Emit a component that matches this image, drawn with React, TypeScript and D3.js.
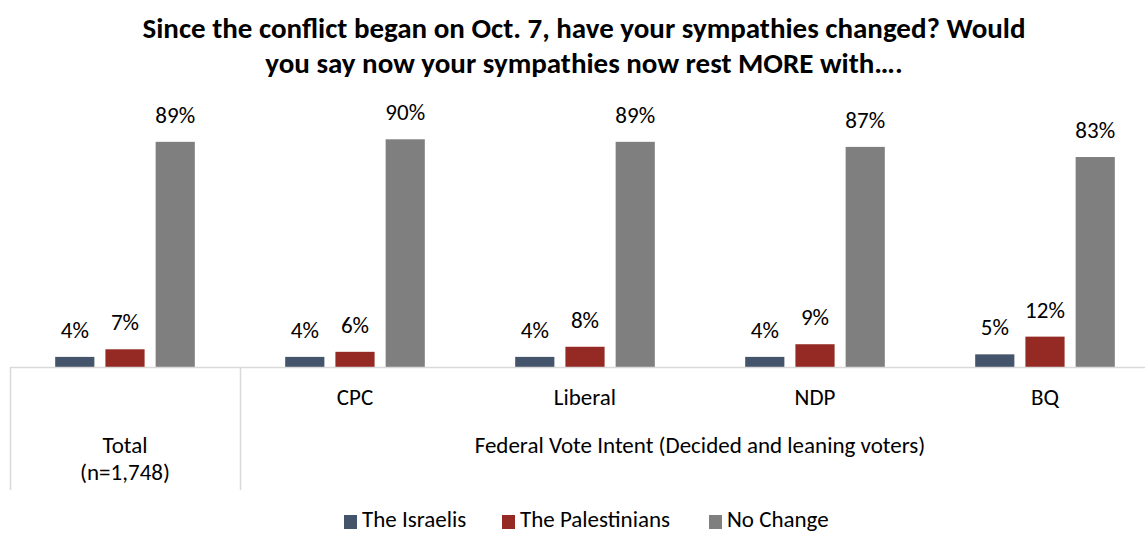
import React from "react";
import * as d3 from "d3";

const categories = ["Total", "CPC", "Liberal", "NDP", "BQ"];
const seriesNames = ["The Israelis", "The Palestinians", "No Change"];
const israelis = [4, 4, 4, 4, 5];
const palestinians = [7, 6, 8, 9, 12];
const noChange = [89, 90, 89, 87, 83];
const colors = ["#44546A", "#952923", "#7F7F7F"];
const titleLines = [
  "Since the conflict began on Oct. 7, have your sympathies changed? Would",
  "you say now your sympathies now rest MORE with….",
];

const W = 1145;
const H = 533;
const font = "Carlito, Calibri, Lato, 'Open Sans', sans-serif";
const fs = 23;

export default function App() {
  const series = [israelis, palestinians, noChange];
  const x = d3.scaleBand<string>().domain(categories).range([10, 1160]).paddingInner(0).paddingOuter(0);
  const inner = d3
    .scaleBand<string>()
    .domain(seriesNames)
    .range([0, x.bandwidth()])
    .paddingInner(0.22)
    .paddingOuter(0.9);
  const y = d3.scaleLinear().domain([0, 100]).range([367, 114]);
  const base = y(0);

  return (
    <svg width={W} height={H} style={{ position: "absolute", left: 0, top: 0, background: "#fff" }}>
      <rect width={W} height={H} fill="#fff" />
      {titleLines.map((t, i) => (
        <text key={i} x={584} y={38 + i * 35} textAnchor="middle" fontFamily={font} fontWeight="bold" fontSize={29} fill="#000">
          {t}
        </text>
      ))}
      {categories.map((c, ci) =>
        series.map((s, si) => {
          const bx = (x(c) as number) + (inner(seriesNames[si]) as number);
          const v = s[ci];
          return (
            <g key={c + si}>
              <rect x={bx} y={y(v)} width={inner.bandwidth()} height={base - y(v)} fill={colors[si]} />
              <text x={bx + inner.bandwidth() / 2} y={y(v) - 19} textAnchor="middle" fontFamily={font} fontSize={fs} fill="#000">
                {v}%
              </text>
            </g>
          );
        })
      )}
      <line x1={10} x2={W} y1={base + 0.5} y2={base + 0.5} stroke="#D9D9D9" strokeWidth={1.5} />
      <line x1={10.5} x2={10.5} y1={base} y2={490} stroke="#D9D9D9" strokeWidth={1.5} />
      <line x1={240.5} x2={240.5} y1={base} y2={490} stroke="#D9D9D9" strokeWidth={1.5} />
      {categories.slice(1).map((c) => (
        <text key={c} x={(x(c) as number) + x.bandwidth() / 2} y={405} textAnchor="middle" fontFamily={font} fontSize={fs} fill="#000">
          {c}
        </text>
      ))}
      <text x={(x("Total") as number) + x.bandwidth() / 2} y={453} textAnchor="middle" fontFamily={font} fontSize={fs} fill="#000">
        Total
      </text>
      <text x={(x("Total") as number) + x.bandwidth() / 2} y={480} textAnchor="middle" fontFamily={font} fontSize={fs} fill="#000">
        (n=1,748)
      </text>
      <text x={((x("CPC") as number) + 1160) / 2} y={453} textAnchor="middle" fontFamily={font} fontSize={fs} fill="#000">
        Federal Vote Intent (Decided and leaning voters)
      </text>
      {seriesNames.map((n, i) => {
        const lx = [344, 502, 709][i];
        return (
          <g key={n}>
            <rect x={lx} y={515} width={13} height={14} fill={colors[i]} />
            <text x={lx + 18} y={527} fontFamily={font} fontSize={fs} fill="#000">
              {n}
            </text>
          </g>
        );
      })}
    </svg>
  );
}
